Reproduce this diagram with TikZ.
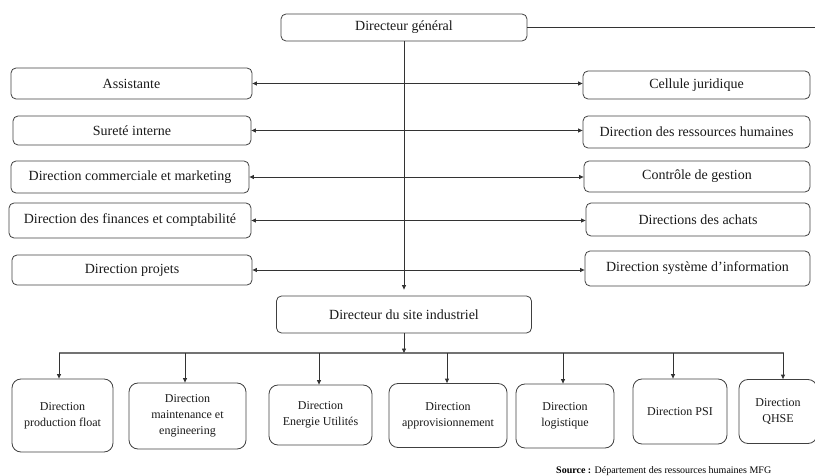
\documentclass[tikz,border=0pt]{standalone}
\usepackage{fontspec}
\setmainfont{Liberation Serif}
\usepackage{tikz}
\usepackage{xcolor}
\usetikzlibrary{arrows.meta}
\tikzset{%
  tipA/.tip={Triangle[length=4.5pt,width=4pt]},
  box/.style={draw=black!75, line width=0.8pt, rounded corners=5pt, inner sep=0pt,
    font=\fontsize{14}{16}\selectfont, text=black!90},
  sbox/.style={box, rounded corners=9pt, align=center, font=\fontsize{12}{16}\selectfont},
  conn/.style={draw=black!80, line width=0.8pt},
  bus/.style={draw=black!55, line width=1.3pt}
}

\begin{document}
\begin{tikzpicture}[x=1pt,y=-1pt]
\useasboundingbox (0,0) rectangle (815,476);
% top
\node[box, minimum width=246, minimum height=27] (dg) at (404,27.5) {Directeur général};
\coordinate (dgR) at (815,26);
\draw[conn] (dg.east) -- (dg.east -| dgR);
% left column
\node[box, minimum width=241, minimum height=31] (as) at (131.5,83.5) {Assistante};
\node[box, minimum width=238, minimum height=29] (si) at (132,130.5) {Sureté interne};
\node[box, minimum width=238, minimum height=32] (dc) at (130,177) {Direction commerciale et marketing};
\node[box, minimum width=242, minimum height=35] (df) at (130,220.5) {Direction des finances et comptabilité};
\node[box, minimum width=240, minimum height=30] (dp) at (132,270) {Direction projets};
% right column
\node[box, minimum width=227, minimum height=28] (cj) at (696.5,85) {Cellule juridique};
\node[box, minimum width=227, minimum height=32] (rh) at (696.5,132) {Direction des ressources humaines};
\node[box, minimum width=226, minimum height=31] (cg) at (697,176.5) {Contrôle de gestion};
\node[box, minimum width=224, minimum height=33] (da) at (698,219.5) {Directions des achats};
\node[box, minimum width=225, minimum height=35] (ds) at (697.5,268.5) {Direction système d’information};
\foreach \l/\r in {as/cj, si/rh, dc/cg, df/da, dp/ds}
  \draw[conn, tipA-tipA] (\l.east) -- (\l.east -| \r.west);
% site
\node[box, minimum width=255, minimum height=37] (site) at (404,314.5) {Directeur du site industriel};
\draw[conn, -tipA, shorten >=6pt] (dg.south) -- (site.north);
%\draw[conn] (dg.south) -- (site.north);
\coordinate (busL) at (59,353);
\coordinate (busR) at (784,353);
\draw[bus] (busL) -- (busR);
\draw[conn, -tipA] (site.south) -- (site.south |- busL);
% bottom row
\node[sbox, minimum width=101, minimum height=73] (pf) at (62.5,415.5) {Direction\\production float};
\node[sbox, minimum width=117, minimum height=66] (mt) at (187.5,416) {Direction\\maintenance et\\engineering};
\node[sbox, minimum width=103, minimum height=60] (eu) at (320.5,415) {Direction\\Energie Utilités};
\node[sbox, minimum width=118, minimum height=64] (ap) at (448,415.5) {Direction\\approvisionnement};
\node[sbox, minimum width=98, minimum height=64] (lg) at (565,416) {Direction\\logistique};
\node[sbox, minimum width=94, minimum height=65] (psi) at (680,411.5) {Direction PSI};
\node[sbox, minimum width=78, minimum height=64] (qh) at (778,411.5) {Direction\\QHSE};
\foreach \n/\dx in {pf/-3.5, mt/-2.5, eu/-1.5, ap/-1, lg/-2, psi/-7, qh/5}{
  \path ([xshift=\dx pt]\n.north) coordinate (t\n);
  \draw[conn, -tipA] (t\n |- busL) -- (t\n);
}
\node[anchor=base west, inner sep=0pt, font=\fontsize{10}{12}\selectfont] (src) at (556,473)
  {\textbf{Source :} Département des ressources humaines MFG};
\end{tikzpicture}
\end{document}
